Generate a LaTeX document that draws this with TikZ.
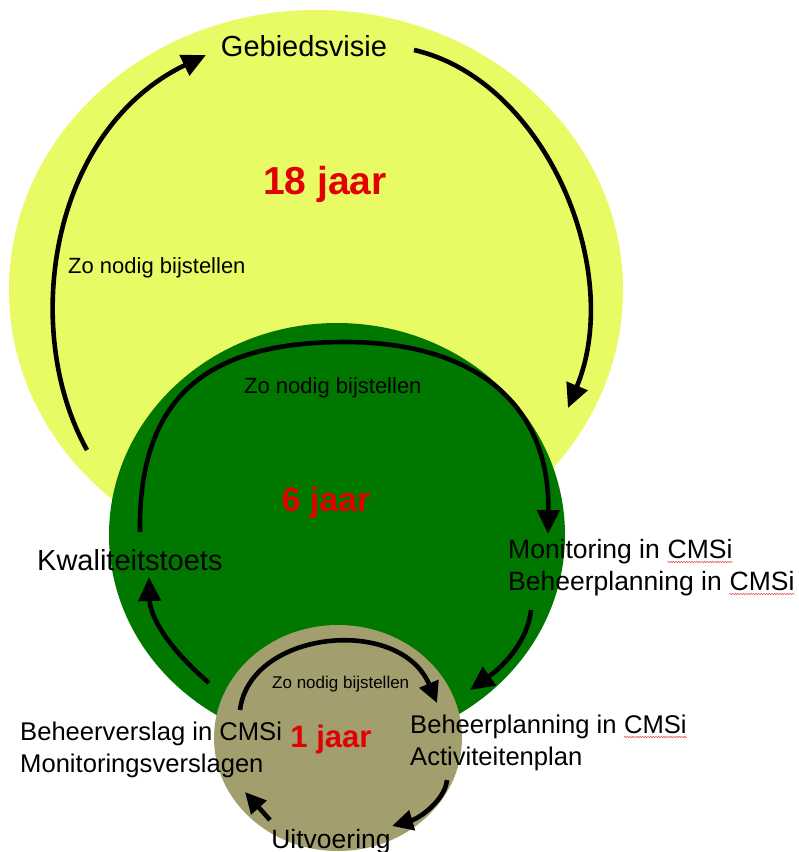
\documentclass[tikz,border=0pt]{standalone}
\usepackage{fontspec}
\setmainfont{Liberation Sans}
\usetikzlibrary{arrows.meta,decorations.pathmorphing,calc}
\definecolor{yel}{RGB}{232,250,100}
\definecolor{grn}{RGB}{0,120,0}
\definecolor{olv}{RGB}{163,158,110}
\definecolor{redt}{RGB}{226,0,0}
\definecolor{squigc}{RGB}{225,90,90}
\begin{document}
\begin{tikzpicture}[x=1pt,y=-1pt,
  arr/.style={line width=4.6pt, -{Triangle[length=24pt,width=22pt]}},
  sarr/.style={line width=4.6pt, -{Triangle[length=21pt,width=20pt]}},
  big/.style={inner sep=0pt, font=\fontsize{29pt}{29pt}\selectfont},
  mid/.style={inner sep=0pt, font=\fontsize{26.5pt}{26.5pt}\selectfont},
  low/.style={inner sep=0pt, font=\fontsize{25.6pt}{25.6pt}\selectfont},
  sml/.style={inner sep=0pt, font=\fontsize{22pt}{22pt}\selectfont},
  tiny/.style={inner sep=0pt, font=\fontsize{17pt}{17pt}\selectfont},
  yr/.style={inner sep=0pt, text=redt, font=\bfseries\fontsize{#1}{#1}\selectfont},
  squig/.style={squigc, line width=0.6pt, decorate, decoration={snake, amplitude=0.7pt, segment length=2.6pt}}]
\useasboundingbox (0,0) rectangle (799,852);
\fill[white] (0,0) rectangle (799,852);
% circles
\fill[yel] (316,290) ellipse [x radius=307pt, y radius=280pt];
\fill[grn] (337,535) ellipse [x radius=228pt, y radius=212pt];
\fill[olv] (338,738) ellipse [x radius=124pt, y radius=113pt];
% labels
\node[big, anchor=base] (geb) at (304,56) {Gebiedsvisie};
\node[yr=39pt, anchor=base] (y18) at (325,194) {18 jaar};
\node[sml, anchor=base west] (zo1) at (68,273) {Zo nodig bijstellen};
\node[sml, anchor=base west] (zo2) at (244,393) {Zo nodig bijstellen};
\node[yr=34pt, anchor=base] (y6) at (326,511) {6 jaar};
\node[big, anchor=base west] (kwal) at (37,570) {Kwaliteitstoets};
\node[mid, anchor=base west] (mon) at (508,558) {Monitoring in};
\node[mid, anchor=base west] (monc) at ($(mon.base east)+(7.4,0)$) {CMSi};
\node[mid, anchor=base west] (bp1) at (508,590) {Beheerplanning in};
\node[mid, anchor=base west] (bp1c) at ($(bp1.base east)+(7.4,0)$) {CMSi};
\node[low, anchor=base west] (bv) at (20,740) {Beheerverslag in CMSi};
\node[low, anchor=base west] (mv) at (20,772) {Monitoringsverslagen};
\node[yr=31pt, anchor=base] (y1) at (331,747) {1 jaar};
\node[tiny, anchor=base west] (zo3) at (272,688) {Zo nodig bijstellen};
\node[low, anchor=base west] (bp2) at (410,733) {Beheerplanning in};
\node[low, anchor=base west] (bp2c) at ($(bp2.base east)+(7.1,0)$) {CMSi};
\node[low, anchor=base west] (act) at (410,765) {Activiteitenplan};
\node[mid, anchor=base] (uit) at (331,848) {Uitvoering};
% spell-check squiggles
\draw[squig] ($(monc.base west)+(0,4)$) -- ($(monc.base east)+(0,4)$);
\draw[squig] ($(bp1c.base west)+(0,4)$) -- ($(bp1c.base east)+(0,4)$);
\draw[squig] ($(bp2c.base west)+(0,4)$) -- ($(bp2c.base east)+(0,4)$);
% arrow end points
\coordinate (a1s) at (87,450);   \coordinate (a1e) at (206,55);
\coordinate (a2s) at (414,50);   \coordinate (a2e) at (568,408);
\coordinate (a3s) at (140,532);  \coordinate (a3t) at (345,342);  \coordinate (a3e) at (548,534);
\coordinate (a4s) at (209,683);  \coordinate (a4e) at (149,577);
\coordinate (a5s) at (531,610);  \coordinate (a5e) at (470,690);
\coordinate (a6s) at (240,710);  \coordinate (a6e) at (437,703);
\coordinate (a7s) at (447,780);  \coordinate (a7e) at (392,826);
\coordinate (a8s) at (270,820);  \coordinate (a8e) at (245,792);
% arrows
\draw[arr] (a1s) .. controls (20,330) and (50,130) .. (a1e);
\draw[arr] (a2s) .. controls (545,80) and (625,270) .. (a2e);
\draw[arr] (a3s) .. controls (138,390) and (215,342) .. (a3t)
                 .. controls (470,342) and (550,400) .. (a3e);
\draw[arr] (a4s) .. controls (165,645) and (150,615) .. (a4e);
\draw[arr] (a5s) .. controls (528,640) and (505,665) .. (a5e);
\draw[sarr] (a6s) .. controls (250,630) and (400,615) .. (a6e);
\draw[sarr] (a7s) .. controls (445,800) and (420,818) .. (a7e);
\draw[sarr] (a8s) -- (a8e);
\end{tikzpicture}
\end{document}
